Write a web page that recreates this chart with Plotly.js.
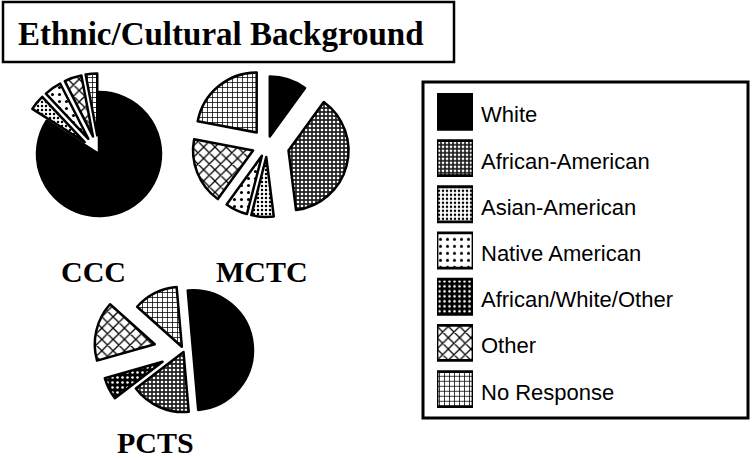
<!DOCTYPE html>
<html>
<head>
<meta charset="utf-8">
<script src="https://cdn.plot.ly/plotly-3.0.1.min.js"></script>
<style>html,body{margin:0;padding:0;background:#fff;}#chart{width:752px;height:459px;}</style>
</head>
<body>
<div id="chart"></div>
<script>
// ---- data ----
var categories = ["White", "African-American", "Asian-American", "Native American", "African/White/Other", "Other", "No Response"];
var cccValues  = [84, 0, 4, 4.5, 0, 4.5, 3];
var mctcValues = [10, 38, 6, 6, 0, 18, 22];
var pctsValues = [50, 16, 0, 0, 6, 16, 12];
var pieNames = ["CCC", "MCTC", "PCTS"];
var chartTitle = "Ethnic/Cultural Background";

// ---- styles ----
var W = 752, H = 459;
var patShape = ["", ".", ".", ".", ".", "x", "+"];
var patBg    = ["#000", "#222", "#fff", "#fff", "#000", "#fff", "#fff"];
var patFg    = ["#000", "#fff", "#000", "#000", "#fff", "#000", "#000"];
var patSize  = [6, 4, 4, 7, 5, 8, 5];
var patSolid = [0.3, 0.35, 0.3, 0.15, 0.2, 0.3, 0.28];

var cccPull  = [0, 0.3, 0.3, 0.3, 0.3, 0.3, 0.3];
var mctcPull = [0.15, 0.37, 0.2, 0.2, 0.3, 0.25, 0.27];
var pctsPull = [0.15, 0.02, 0.3, 0.3, 0.4, 0.5, 0.08];

function px2dom(x0, x1, y0, y1) {
  return {x: [x0 / W, x1 / W], y: [1 - y1 / H, 1 - y0 / H]};
}
function sq(cx, cy, half) { return px2dom(cx - half, cx + half, cy - half, cy + half); }

function pieTrace(vals, pulls, domain, rotation) {
  var lab = [], v = [], pl = [], sh = [], bg = [], fg = [], sz = [], so = [];
  for (var i = 0; i < categories.length; i++) {
    if (vals[i] > 0) {
      lab.push(categories[i]); v.push(vals[i]); pl.push(pulls[i]);
      sh.push(patShape[i]); bg.push(patBg[i]); fg.push(patFg[i]); sz.push(patSize[i]); so.push(patSolid[i]);
    }
  }
  return {
    type: "pie", labels: lab, values: v, pull: pl, sort: false, direction: "clockwise",
    rotation: rotation || 0, textinfo: "none", showlegend: false, hoverinfo: "label+percent",
    domain: domain,
    marker: {colors: bg, line: {color: "#000", width: 2.5},
      pattern: {shape: sh, bgcolor: bg, fgcolor: fg, size: sz, solidity: so, fillmode: "replace"}}
  };
}

var traces = [
  pieTrace(cccValues, cccPull, sq(99, 154, 62 * 1.3), 0),
  pieTrace(mctcValues, mctcPull, sq(267, 145, 60 * 1.37), 0),
  pieTrace(pctsValues, pctsPull, sq(184, 351, 60 * 1.5), -5)
];

// legend swatches: one bar per category
var legendAnn = [];
categories.forEach(function(c, i) {
  var pat = patShape[i] ? {shape: patShape[i], bgcolor: patBg[i], fgcolor: patFg[i], size: patSize[i], solidity: patSolid[i], fillmode: "replace"} : {shape: ""};
  traces.push({
    type: "bar", orientation: "h", x: [1], y: [c], base: 0, width: 0.76,
    xaxis: "x", yaxis: "y", showlegend: false, hoverinfo: "y",
    marker: {color: patBg[i], line: {color: "#000", width: 2.8}, pattern: pat}
  });
  legendAnn.push({text: c, xref: "x", yref: "y", x: 1, y: c, xanchor: "left", yanchor: "middle",
    xshift: 6, yshift: -3, showarrow: false,
    font: {family: "Liberation Sans, Arial, sans-serif", size: 22, color: "#000"}});
});

var legDom = px2dom(437, 473, 88.8, 412.2);
var serif = "Liberation Serif, Times New Roman, serif";

var layout = {
  width: W, height: H, margin: {l: 0, r: 0, t: 0, b: 0},
  paper_bgcolor: "#fff", plot_bgcolor: "rgba(0,0,0,0)", showlegend: false,
  xaxis: {domain: legDom.x, range: [0, 1], visible: false, fixedrange: true},
  yaxis: {domain: legDom.y, type: "category", categoryarray: categories, range: [6.5, -0.5],
    anchor: "x", visible: false, fixedrange: true},
  shapes: [
    {type: "rect", xref: "paper", yref: "paper", x0: 3 / W, x1: 454 / W, y0: 1 - 62 / H, y1: 1 - 2 / H,
      line: {color: "#000", width: 2.5}},
    {type: "rect", xref: "paper", yref: "paper", x0: 423 / W, x1: 748 / W, y0: 1 - 418 / H, y1: 1 - 82 / H,
      line: {color: "#000", width: 3}}
  ],
  annotations: [
    {text: "<b>" + chartTitle + "</b>", xref: "paper", yref: "paper", x: 16 / W, y: 1 - 34 / H,
      xanchor: "left", yanchor: "middle", showarrow: false,
      font: {family: serif, size: 33, color: "#000"}},
    {text: "<b>" + pieNames[0] + "</b>", xref: "paper", yref: "paper", x: 93.5 / W, y: 1 - 271 / H,
      xanchor: "center", yanchor: "middle", showarrow: false, font: {family: serif, size: 30, color: "#000"}},
    {text: "<b>" + pieNames[1] + "</b>", xref: "paper", yref: "paper", x: 261.5 / W, y: 1 - 271 / H,
      xanchor: "center", yanchor: "middle", showarrow: false, font: {family: serif, size: 30, color: "#000"}},
    {text: "<b>" + pieNames[2] + "</b>", xref: "paper", yref: "paper", x: 155 / W, y: 1 - 442 / H,
      xanchor: "center", yanchor: "middle", showarrow: false, font: {family: serif, size: 30, color: "#000"}}
  ].concat(legendAnn)
};

Plotly.newPlot("chart", traces, layout, {staticPlot: true, displayModeBar: false});
</script>
</body>
</html>
